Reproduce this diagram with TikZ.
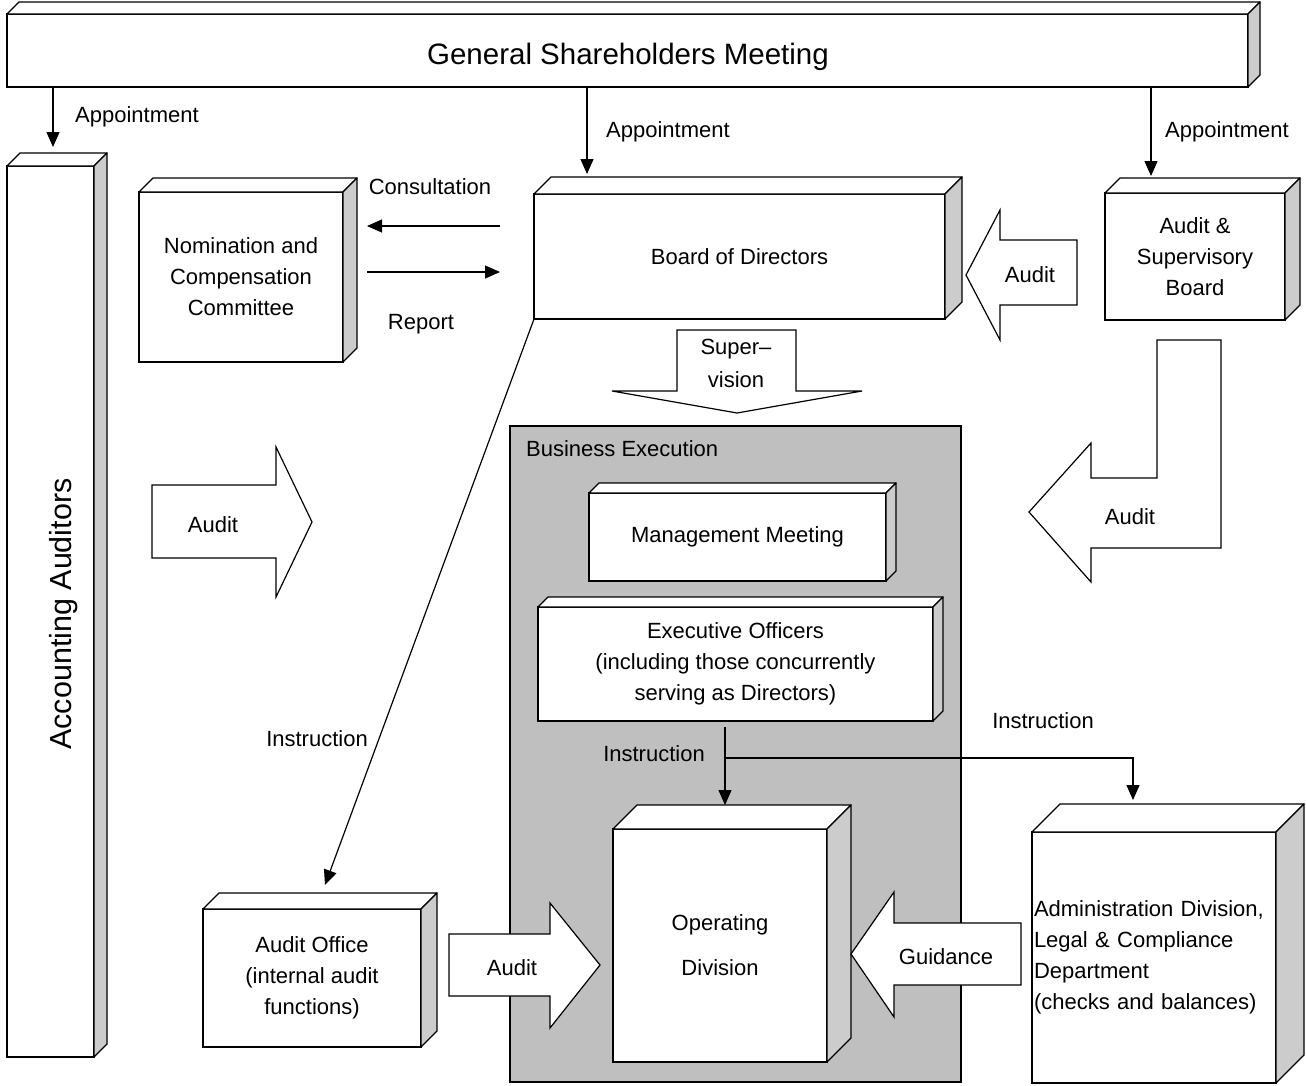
\documentclass[tikz,border=0pt]{standalone}
\usepackage{fontspec}
\setmainfont{Liberation Sans}
\usetikzlibrary{arrows.meta}
\definecolor{sidegray}{gray}{0.8}
\definecolor{execgray}{gray}{0.75}
\newcommand{\boxfaces}[2]{%
\draw[face] (#1.north west) -- ++(#2,-#2) -- ([shift={(#2,-#2)}]#1.north east) -- (#1.north east) -- cycle;
\draw[face,fill=sidegray] (#1.north east) -- ++(#2,-#2) -- ([shift={(#2,-#2)}]#1.south east) -- (#1.south east) -- cycle;}
\tikzset{
  box/.style={draw,fill=white,line width=1.3pt,outer sep=0pt,inner sep=0pt,align=center},
  face/.style={draw,fill=white,line width=1.3pt,line join=round},
  arr/.style={line width=1.2pt,-{Triangle[length=15pt,width=13pt]}},
  fat/.style={draw,fill=white,line width=1.2pt},
  lbl/.style={inner sep=0pt},
  big/.style={font=\fontsize{29.5}{34}\selectfont}
}
\begin{document}
\begin{tikzpicture}[x=1pt,y=-1pt,font=\fontsize{22}{31}\selectfont]
\useasboundingbox (0,0) rectangle (1306,1085);
\draw[fill=execgray,line width=1.3pt] (510,426) rectangle (961,1082);
\draw (526,449) node[anchor=west,lbl] (BETitle) {Business Execution};

\draw (627.5,50.5) node[box,minimum width=1241pt,minimum height=73pt] (GSM) {};
	\draw (628,57) node[lbl,big] (GSMText) {General Shareholders Meeting};
\draw (50.5,611.5) node[box,minimum width=87pt,minimum height=891pt] (AccAud) {};
	\draw (64,614) node[lbl,big,font=\fontsize{30.5}{34}\selectfont,rotate=90] (AccAudText) {Accounting Auditors};
\draw (241,277) node[box,minimum width=204pt,minimum height=170pt] (NCC) {Nomination and\\Compensation\\Committee};
\draw (739.5,256.5) node[box,minimum width=411pt,minimum height=125pt] (Board) {Board of Directors};
\draw (1195,256.5) node[box,minimum width=180pt,minimum height=127pt] (ASB) {Audit \&\\Supervisory\\Board};
\draw (737.5,537) node[box,minimum width=297pt,minimum height=88pt] (MM) {\raisebox{4pt}{Management Meeting}};
\draw (735.5,664) node[box,minimum width=395pt,minimum height=114pt] (EO) {Executive Officers\\(including those concurrently\\serving as Directors)};
\draw (720,945.5) node[box,minimum width=214pt,minimum height=233pt] (OD) {Operating\\[14pt]Division};
\draw (1154,957.5) node[box,text width=240pt,align=left,minimum width=244pt,minimum height=251pt] (Admin) {Administration Division,\\Legal \& Compliance\\Department\\(checks and balances)};
\draw (312,978) node[box,minimum width=218pt,minimum height=138pt] (AO) {Audit Office\\(internal audit\\functions)};

\boxfaces{GSM}{12}
\boxfaces{AccAud}{13}
\boxfaces{NCC}{14}
\boxfaces{Board}{17}
\boxfaces{ASB}{15}
\boxfaces{MM}{10}
\boxfaces{EO}{10}
\boxfaces{OD}{24}
\boxfaces{Admin}{28}
\boxfaces{AO}{16}

\draw[fat] (966,275) -- (1000,210) -- (1000,240) -- (1077,240) -- (1077,305) -- (1000,305) -- (1000,340) -- cycle;
	\draw (1030,275) node[lbl] (AuditBoard) {Audit};
\draw[fat] (677,330) -- (796,330) -- (796,391) -- (862,391) -- (737,413) -- (612,391) -- (677,391) -- cycle;
	\draw (736,349) node[lbl] (SuperA) {Super–};
	\draw (736,380) node[lbl] (SuperB) {vision};
\draw[fat] (1157,340) -- (1221,340) -- (1221,548) -- (1091,548) -- (1091,582) -- (1029,512) -- (1091,443) -- (1091,478) -- (1157,478) -- cycle;
	\draw (1130,517) node[lbl] (AuditExec) {Audit};
\draw[fat] (152,485) -- (276,485) -- (276,447) -- (312,522) -- (276,597) -- (276,558) -- (152,558) -- cycle;
	\draw (213,525) node[lbl] (AuditAcc) {Audit};
\draw[fat] (449,934) -- (550,934) -- (550,903) -- (600,965) -- (550,1028) -- (550,996) -- (449,996) -- cycle;
	\draw (512,968) node[lbl] (AuditInt) {Audit};
\draw[fat] (851,954) -- (894,892) -- (894,923) -- (1021,923) -- (1021,985) -- (894,985) -- (894,1017) -- cycle;
	\draw (946,957) node[lbl] (Guid) {Guidance};

\draw (75,117) node[anchor=west,lbl] (AppLeft) {Appointment};
\draw (606,132) node[anchor=west,lbl] (AppMid) {Appointment};
\draw (1165,132) node[anchor=west,lbl] (AppRight) {Appointment};
\draw (430,187) node[lbl] (Consult) {Consultation};
\draw (421,324) node[lbl] (Report) {Report};
\draw (317,739) node[lbl] (InstrAO) {Instruction};
\draw (654,754) node[lbl] (InstrOD) {Instruction};
\draw (1043,721) node[lbl] (InstrAdmin) {Instruction};

\draw[arr] ([xshift=2.5pt]AccAud.north |- GSM.south) -- ([xshift=2.5pt,yshift=19pt]AccAud.north);
\draw[arr] ([xshift=53pt]Board.north west |- GSM.south) -- ([xshift=53pt,yshift=20pt]Board.north west);
\draw[arr] ([xshift=-44pt]ASB.north |- GSM.south) -- ([xshift=-44pt,yshift=17pt]ASB.north);
\draw[arr] ([xshift=-34pt,yshift=30.5pt]Board.west) -- ([xshift=24pt,yshift=30.5pt]Board.west -| NCC.east);
\draw[arr] ([xshift=24pt,yshift=-15.5pt]Board.west -| NCC.east) -- ([xshift=-34pt,yshift=-15.5pt]Board.west);
\draw[arr] (Board.south west) -- ([xshift=13pt,yshift=24pt]AO.north);
\coordinate (split) at (725,758);
\draw[arr] ([yshift=-6pt]EO.south -| split) -- ([yshift=24pt]OD.north -| split);
\draw[arr] (split) -| ([xshift=-21pt,yshift=32pt]Admin.north);
\end{tikzpicture}
\end{document}
